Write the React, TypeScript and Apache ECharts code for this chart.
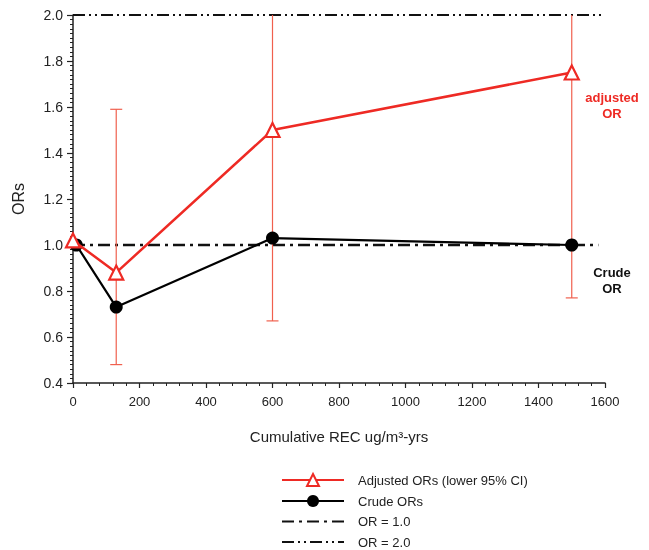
import React, { useEffect, useRef } from "react";
import * as echarts from "echarts";

const adjustedX = [0, 130, 600, 1500];
const adjustedOR = [1.02, 0.88, 1.5, 1.75];
const ciLower = [0.48, 0.67, 0.77];
const ciUpper: (number | null)[] = [1.59, null, null]; // null = runs above the axis top
const ciX = [130, 600, 1500];
const crudeX = [10, 130, 600, 1500];
const crudeOR = [1.0, 0.73, 1.03, 1.0];
const refLine1 = 1.0;
const refLine2 = 2.0;
const xTicks = [0, 1600, 200];
const yTicks = [0.4, 2.0, 0.2];

const RED = "#ee2a24";
const ERR = "#f0604e";
const FONT = "Liberation Sans, Arial, sans-serif";

export default function App() {
  const ref = useRef<HTMLDivElement>(null);
  useEffect(() => {
    const chart = echarts.init(ref.current!, null, { renderer: "svg" });
    const errData = ciX.map((x, i) => [x, ciLower[i], ciUpper[i] == null ? yTicks[1] : ciUpper[i], ciUpper[i] == null ? 0 : 1]);
    const noSym = { color: "transparent", borderWidth: 0, opacity: 0 };
    chart.setOption({
      animation: false,
      textStyle: { fontFamily: FONT },
      grid: { left: 73, right: 44, top: 15, bottom: 167 },
      xAxis: {
        type: "value",
        min: xTicks[0],
        max: xTicks[1],
        interval: xTicks[2],
        name: "Cumulative REC ug/m³-yrs",
        nameLocation: "middle",
        nameGap: 46,
        nameTextStyle: { fontSize: 15, color: "#222", fontFamily: FONT },
        axisLine: { lineStyle: { color: "#222", width: 1.5 } },
        axisTick: { length: 5, lineStyle: { color: "#222", width: 1.2 } },
        minorTick: { show: true, splitNumber: 5, length: 3, lineStyle: { color: "#222", width: 1 } },
        axisLabel: { fontSize: 13, color: "#222", margin: 12, formatter: (v: number) => String(v) },
        splitLine: { show: false },
      },
      yAxis: {
        type: "value",
        min: yTicks[0],
        max: yTicks[1],
        interval: yTicks[2],
        name: "ORs",
        nameLocation: "middle",
        nameGap: 47,
        nameTextStyle: { fontSize: 16, color: "#222", fontFamily: FONT },
        axisLine: { show: true, lineStyle: { color: "#222", width: 1.5 } },
        axisTick: { show: true, length: 6, lineStyle: { color: "#222", width: 1.2 } },
        minorTick: { show: true, splitNumber: 10, length: 3, lineStyle: { color: "#222", width: 1 } },
        axisLabel: { fontSize: 14, color: "#222", margin: 10, formatter: (v: number) => v.toFixed(1) },
        splitLine: { show: false },
      },
      legend: {
        orient: "vertical",
        left: 281,
        top: 473,
        padding: 0,
        itemWidth: 62,
        itemHeight: 15,
        itemGap: 7.5,
        textStyle: { fontSize: 13, color: "#222", fontFamily: FONT, padding: [0, 0, 0, 9] },
        data: [
          { name: "Adjusted ORs (lower 95% CI)" },
          { name: "Crude ORs" },
          { name: "OR = 1.0", itemStyle: noSym },
          { name: "OR = 2.0", itemStyle: noSym },
        ],
      },
      graphic: [
        {
          type: "text",
          x: 612,
          y: 89,
          style: { text: "adjusted\nOR", fill: RED, font: `bold 13px ${FONT}`, align: "center", lineHeight: 16 },
        },
        {
          type: "text",
          x: 612,
          y: 264,
          style: { text: "Crude\nOR", fill: "#111", font: `bold 13px ${FONT}`, align: "center", lineHeight: 16 },
        },
      ],
      series: [
        {
          name: "OR = 2.0",
          type: "line",
          symbol: "none",
          data: [[xTicks[0], refLine2], [xTicks[1], refLine2]],
          itemStyle: { color: "#111" },
          lineStyle: { color: "#111", width: 2, type: [12, 4, 2, 4, 2, 4] },
          z: 1,
        },
        {
          name: "OR = 1.0",
          type: "line",
          symbol: "none",
          data: [[xTicks[0], refLine1], [xTicks[1] - 20, refLine1]],
          itemStyle: { color: "#111" },
          lineStyle: { color: "#111", width: 2.5, type: [12, 5, 3, 5] },
          z: 1,
        },
        {
          name: "errbars",
          type: "custom",
          clip: true,
          z: 2,
          data: errData,
          renderItem: (params: any, api: any) => {
            const x = api.value(0);
            const lo = api.coord([x, api.value(1)]);
            const hi = api.coord([x, api.value(2)]);
            const cap = api.value(3);
            const w = 6;
            const children: any[] = [
              { type: "line", shape: { x1: lo[0], y1: lo[1], x2: hi[0], y2: hi[1] }, style: { stroke: ERR, lineWidth: 1.2 } },
              { type: "line", shape: { x1: lo[0] - w, y1: lo[1], x2: lo[0] + w, y2: lo[1] }, style: { stroke: ERR, lineWidth: 1.2 } },
            ];
            if (cap) {
              children.push({ type: "line", shape: { x1: hi[0] - w, y1: hi[1], x2: hi[0] + w, y2: hi[1] }, style: { stroke: ERR, lineWidth: 1.2 } });
            }
            return { type: "group", children };
          },
        },
        {
          name: "Crude ORs",
          type: "line",
          data: crudeX.map((x, i) => [x, crudeOR[i]]),
          symbol: "circle",
          symbolSize: 13,
          itemStyle: { color: "#000" },
          lineStyle: { color: "#000", width: 2.2 },
          z: 3,
        },
        {
          name: "Adjusted ORs (lower 95% CI)",
          type: "line",
          data: adjustedX.map((x, i) => [x, adjustedOR[i]]),
          symbol: "triangle",
          symbolSize: 14,
          itemStyle: { color: "#fff", borderColor: RED, borderWidth: 2.2 },
          lineStyle: { color: RED, width: 2.5 },
          z: 4,
        },
      ],
    });
    return () => chart.dispose();
  }, []);
  return <div ref={ref} style={{ position: "fixed", left: 0, top: 0, width: 649, height: 550 }} />;
}
